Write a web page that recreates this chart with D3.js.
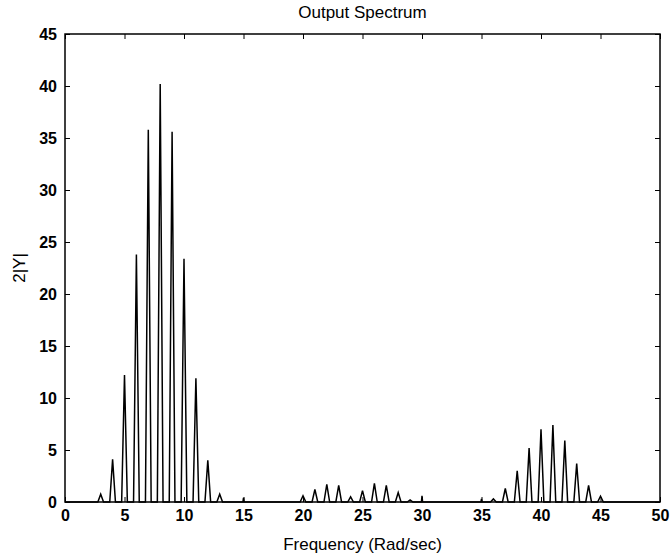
<!DOCTYPE html>
<html lang="en">
<head>
    <meta charset="UTF-8">
    <title>Output Spectrum</title>
    <script src="https://d3js.org/d3.v7.min.js"></script>
    <style>
        body { margin: 0; background: #fff; }
        svg { display: block; }
        .tick text { font-family: "Liberation Sans", Arial, sans-serif; font-size: 16px; font-weight: bold; }
        .lbl { font-family: "Liberation Sans", Arial, sans-serif; font-size: 17px; }
    </style>
</head>
<body>
    <svg width="671" height="554"></svg>

    <script>
        // peaks of the spectrum (frequency in rad/s, amplitude 2|Y|)
        const peakFreqs = [3, 4, 5, 6, 7, 8, 9, 10, 11, 12, 13,
                           20, 21, 22, 23, 24, 25, 26, 27, 28, 29,
                           36, 37, 38, 39, 40, 41, 42, 43, 44, 45];
        const peakVals  = [0.75, 4.1, 12.2, 23.8, 35.8, 40.2, 35.6, 23.4, 11.9, 4.0, 0.75,
                           0.6, 1.2, 1.7, 1.6, 0.5, 1.1, 1.8, 1.6, 0.9, 0.2,
                           0.3, 1.3, 3.0, 5.2, 7.0, 7.4, 5.9, 3.7, 1.6, 0.55];
        // single-sample spikes
        const spikeFreqs = [15, 30, 35];
        const spikeVals  = [0.4, 0.6, 0.3];

        const xTicks = [0, 5, 10, 15, 20, 25, 30, 35, 40, 45, 50];
        const yTicks = [0, 5, 10, 15, 20, 25, 30, 35, 40, 45];

        const svg = d3.select("svg");
        const margin = { left: 65, right: 11, top: 34, bottom: 52 };
        const W = 671, H = 554;

        const x = d3.scaleLinear().domain([0, 50]).range([margin.left, W - margin.right]);
        const y = d3.scaleLinear().domain([0, 45]).range([H - margin.bottom, margin.top]);

        // build the trace: flat baseline with a narrow triangle at each peak
        const marks = peakFreqs.map((f, i) => ({ f: f, v: peakVals[i], hw: 0.24 }))
            .concat(spikeFreqs.map((f, i) => ({ f: f, v: spikeVals[i], hw: 0.05 })))
            .sort((a, b) => a.f - b.f);

        const pts = [[0, 0]];
        marks.forEach(m => {
            pts.push([m.f - m.hw, 0], [m.f, m.v], [m.f + m.hw, 0]);
        });
        pts.push([50, 0]);

        const line = d3.line().x(d => x(d[0])).y(d => y(d[1]));

        svg.append("path")
            .datum(pts)
            .attr("fill", "none")
            .attr("stroke", "#000")
            .attr("stroke-width", 1.5)
            .attr("stroke-linejoin", "miter")
            .attr("d", line);

        // axes, ticks pointing inward on all four sides
        const tl = 5;
        svg.append("g")
            .attr("transform", `translate(0,${y(0)})`)
            .call(d3.axisBottom(x).tickValues(xTicks).tickSize(-tl).tickPadding(8).tickFormat(d3.format("d")))
            .call(g => g.select(".domain").remove());
        svg.append("g")
            .attr("transform", `translate(0,${y(45)})`)
            .call(d3.axisTop(x).tickValues(xTicks).tickSize(-tl).tickFormat(""))
            .call(g => g.select(".domain").remove());
        svg.append("g")
            .attr("transform", `translate(${x(0)},0)`)
            .call(d3.axisLeft(y).tickValues(yTicks).tickSize(-tl).tickPadding(8).tickFormat(d3.format("d")))
            .call(g => g.select(".domain").remove());
        svg.append("g")
            .attr("transform", `translate(${x(50)},0)`)
            .call(d3.axisRight(y).tickValues(yTicks).tickSize(-tl).tickFormat(""))
            .call(g => g.select(".domain").remove());

        svg.selectAll(".tick line").attr("stroke", "#000");
        svg.selectAll(".tick text").attr("fill", "#000");

        svg.append("rect")
            .attr("x", x(0)).attr("y", y(45))
            .attr("width", x(50) - x(0)).attr("height", y(0) - y(45))
            .attr("fill", "none").attr("stroke", "#000").attr("stroke-width", 1.5);

        svg.append("text").attr("class", "lbl")
            .attr("x", (x(0) + x(50)) / 2).attr("y", 18)
            .attr("text-anchor", "middle")
            .text("Output Spectrum");

        svg.append("text").attr("class", "lbl")
            .attr("x", (x(0) + x(50)) / 2).attr("y", 550)
            .attr("text-anchor", "middle")
            .text("Frequency (Rad/sec)");

        svg.append("text").attr("class", "lbl")
            .attr("transform", `translate(25,${(y(0) + y(45)) / 2}) rotate(-90)`)
            .attr("text-anchor", "middle")
            .text("2|Y|");
    </script>
</body>
</html>
